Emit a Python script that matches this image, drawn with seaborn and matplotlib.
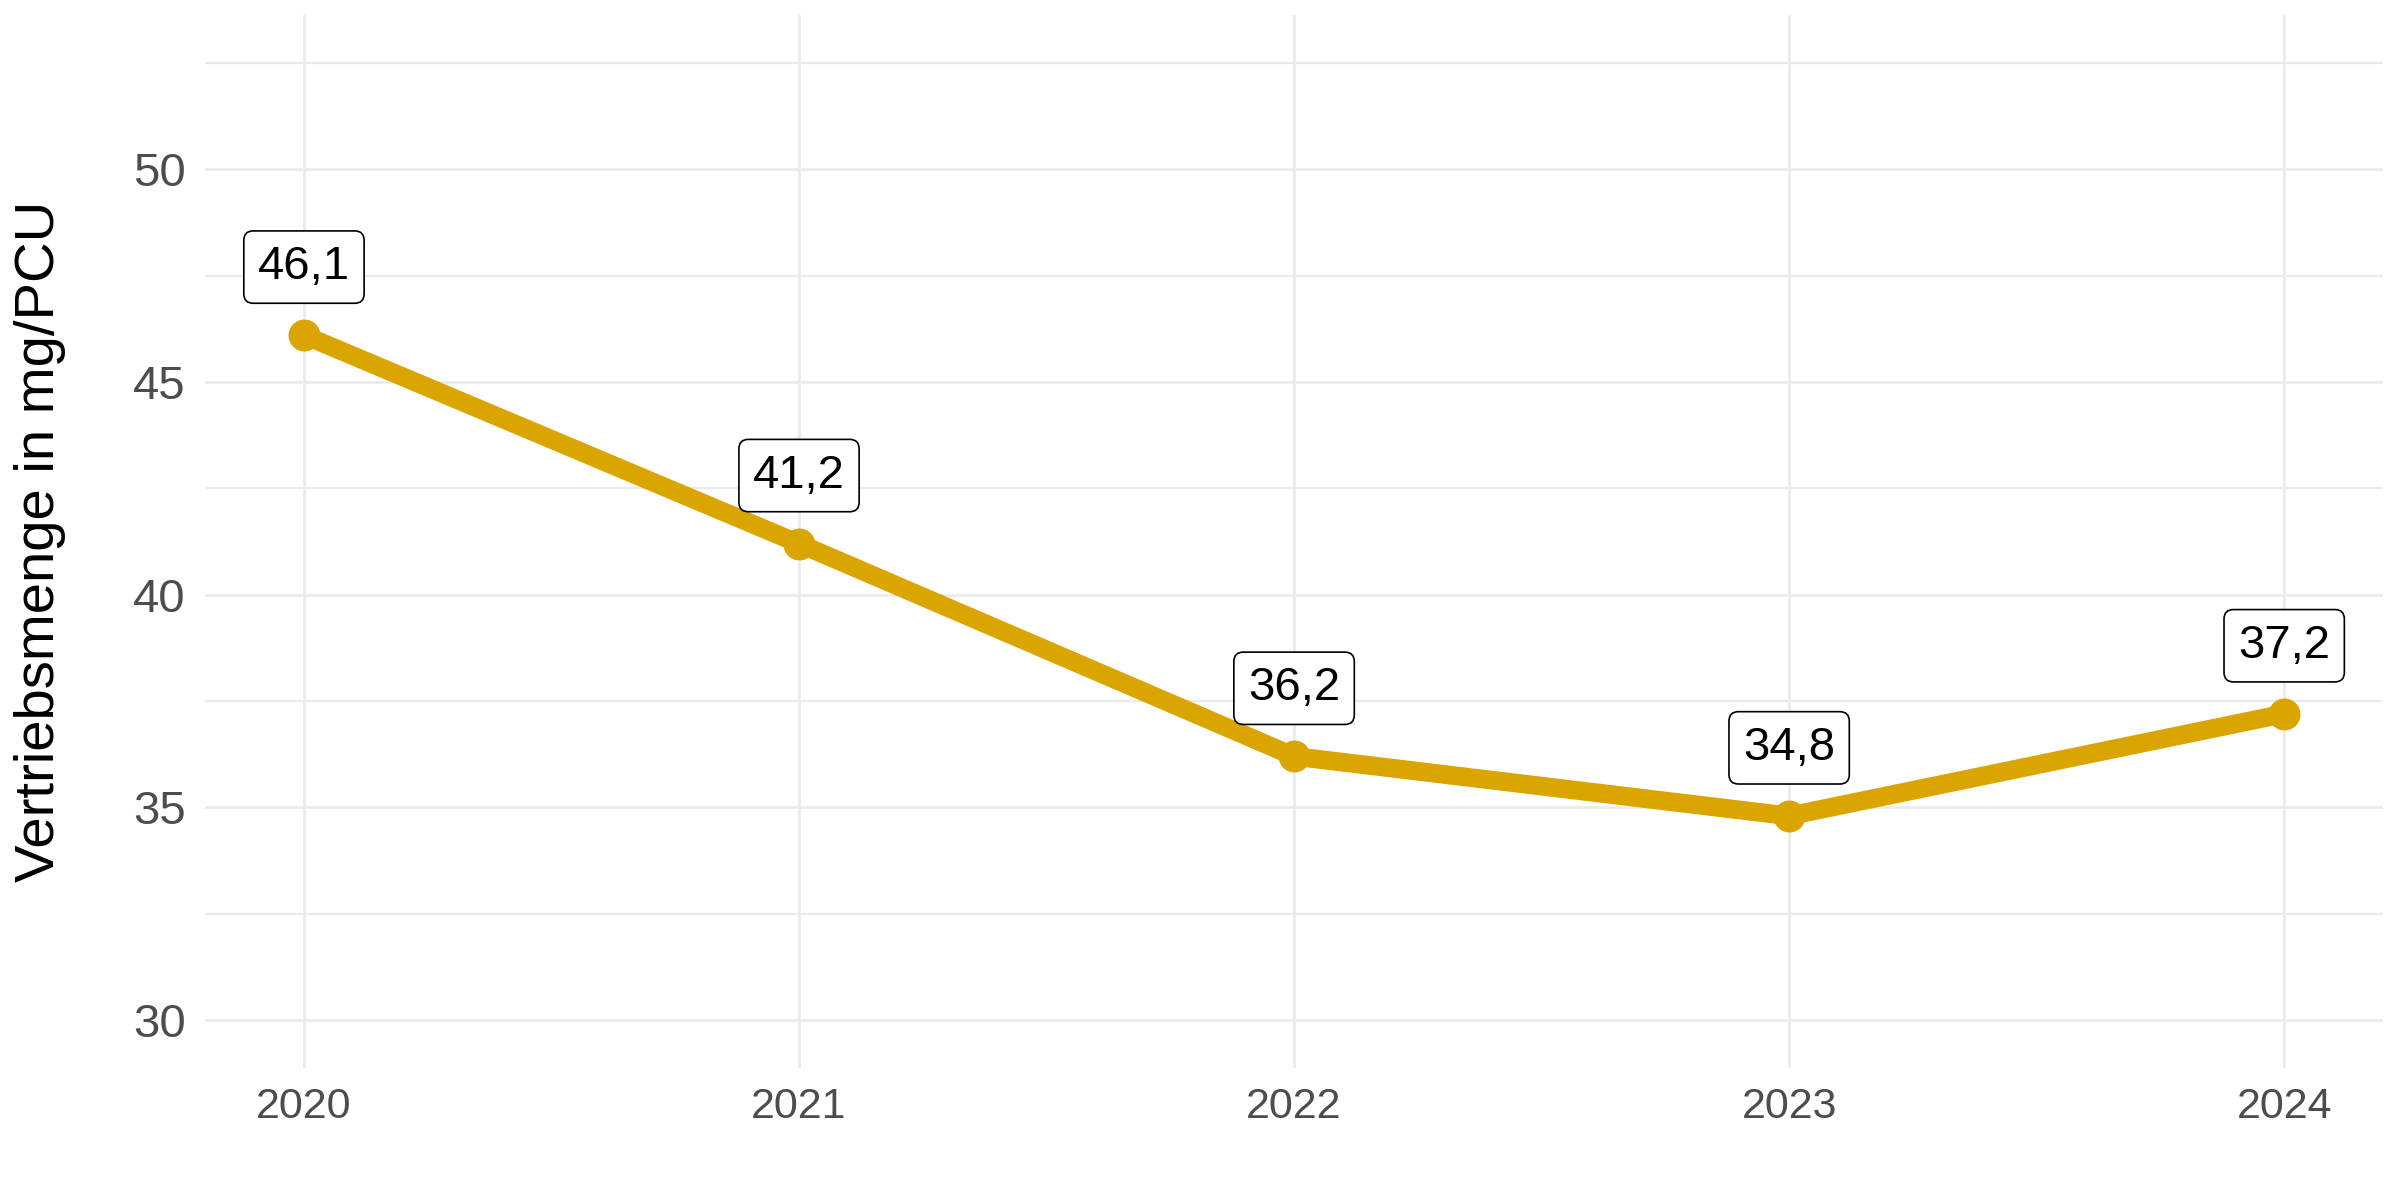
import matplotlib
matplotlib.use("Agg")
import matplotlib.pyplot as plt
import seaborn as sns
import pandas as pd
from matplotlib.ticker import MultipleLocator

# ========== Data ==========
years = [2020, 2021, 2022, 2023, 2024]
amounts = [46.1, 41.2, 36.2, 34.8, 37.2]
labels = ["46,1", "41,2", "36,2", "34,8", "37,2"]

df = pd.DataFrame({"year": years, "amount": amounts, "label": labels})

# ========== Style ==========
sns.set_theme(style="whitegrid")
plt.rcParams["font.family"] = ["Liberation Sans", "DejaVu Sans"]

line_color = "#DBA500"
grid_color = "#EBEBEB"

fig = plt.figure(figsize=(24, 12), dpi=100)
ax = fig.add_axes([0.0854, 0.11, 0.9076, 0.8775])

sns.lineplot(data=df, x="year", y="amount", ax=ax, color=line_color,
             linewidth=13.5, marker="o", markersize=23, markeredgewidth=0,
             zorder=3)

# value labels in boxes above the points
for _, row in df.iterrows():
    ax.text(row["year"], row["amount"] + 1.6, row["label"], ha="center", va="center",
            fontsize=34, color="black", zorder=4,
            bbox=dict(boxstyle="round,pad=0.3,rounding_size=0.2",
                      facecolor="white", edgecolor="black", linewidth=1.2))

# axes
ax.set_xlim(2019.8, 2024.2)
ax.set_ylim(28.875, 53.625)
ax.set_xticks(years)
ax.set_xticklabels([str(y) for y in years])
ax.yaxis.set_major_locator(MultipleLocator(5))
ax.yaxis.set_minor_locator(MultipleLocator(2.5))
ax.set_yticks([30, 35, 40, 45, 50])

ax.set_facecolor("white")
for s in ax.spines.values():
    s.set_visible(False)
ax.grid(which="major", color=grid_color, linewidth=2)
ax.grid(which="minor", axis="y", color=grid_color, linewidth=1.6)
ax.tick_params(axis="both", which="both", length=0)
ax.tick_params(axis="x", labelsize=31, labelcolor="#4D4D4D", pad=14)
ax.tick_params(axis="y", labelsize=34, labelcolor="#4D4D4D", pad=14)

ax.set_xlabel("")
ax.set_ylabel("Vertriebsmenge in mg/PCU", fontsize=40.5, color="black", labelpad=48)

plt.savefig("out.png", dpi=100, facecolor="white")
